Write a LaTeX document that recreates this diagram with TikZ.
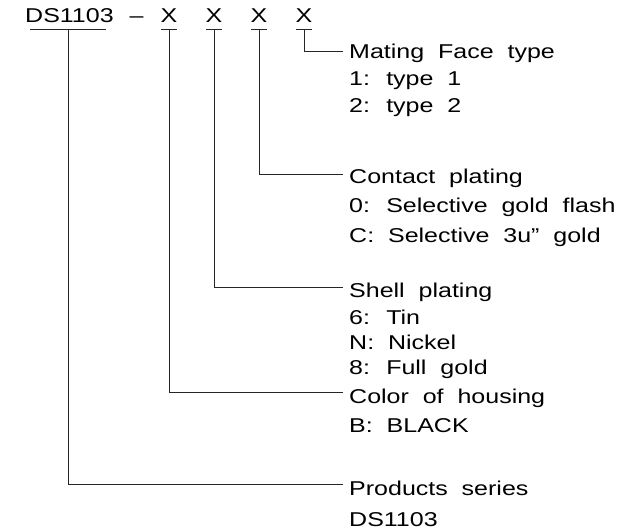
\documentclass[tikz,border=0pt]{standalone}
\usepackage{fontspec}
\setmainfont{Liberation Sans}[FakeStretch=1.25,WordSpace=2]
\begin{document}
\begin{tikzpicture}[x=1pt,y=-1pt,
  txt/.style={inner sep=0pt,anchor=base west,font=\fontsize{20}{20}\selectfont},
  hdr/.style={inner sep=0pt,anchor=base,font=\fontsize{20}{20}\selectfont},
  ln/.style={line width=0.9pt,draw=black!85}]
\useasboundingbox (0,0) rectangle (631,529);
% header
\node[txt] (ds) at (25,23) {DS1103};
\node[hdr] (dash) at (136.5,23) {–};
\node[hdr] (x1) at (169,23) {X};
\node[hdr] (x2) at (214,23) {X};
\node[hdr] (x3) at (259,23) {X};
\node[hdr] (x4) at (304,23) {X};
% underlines
\coordinate (u0) at (68,29);
\coordinate (u1) at (169,29);
\coordinate (u2) at (214,29);
\coordinate (u3) at (259,29);
\coordinate (u4) at (304,29);
\draw[ln] (30,29) -- (106,29);
\foreach \c in {u1,u2,u3,u4} \draw[ln] ([xshift=-8pt]\c) -- ([xshift=8pt]\c);
% labels
\node[txt] (mat) at (349,59) {Mating Face type};
\node[txt] (mat1) at (349,86) {1: type 1};
\node[txt] (mat2) at (349,113) {2: type 2};
\node[txt] (con) at (349,184) {Contact plating};
\node[txt] (con1) at (349,213) {0: Selective gold flash};
\node[txt] (con2) at (349,242) {C: Selective 3u” gold};
\node[txt] (she) at (349,297) {Shell plating};
\node[txt] (she1) at (349,324) {6: Tin};
\node[txt] (she2) at (349,349) {N: Nickel};
\node[txt] (she3) at (349,374) {8: Full gold};
\node[txt] (col) at (349,403) {Color of housing};
\node[txt] (col1) at (349,432) {B: BLACK};
\node[txt] (pro) at (349,495) {Products series};
\node[txt] (pro1) at (349,526) {DS1103};
% connectors
\coordinate (e4) at (343,51);
\coordinate (e3) at (343,174);
\coordinate (e2) at (343,287);
\coordinate (e1) at (343,392);
\coordinate (e0) at (343,484);
\draw[ln] (u4) |- (e4);
\draw[ln] (u3) |- (e3);
\draw[ln] (u2) |- (e2);
\draw[ln] (u1) |- (e1);
\draw[ln] (u0) |- (e0);
\end{tikzpicture}
\end{document}
